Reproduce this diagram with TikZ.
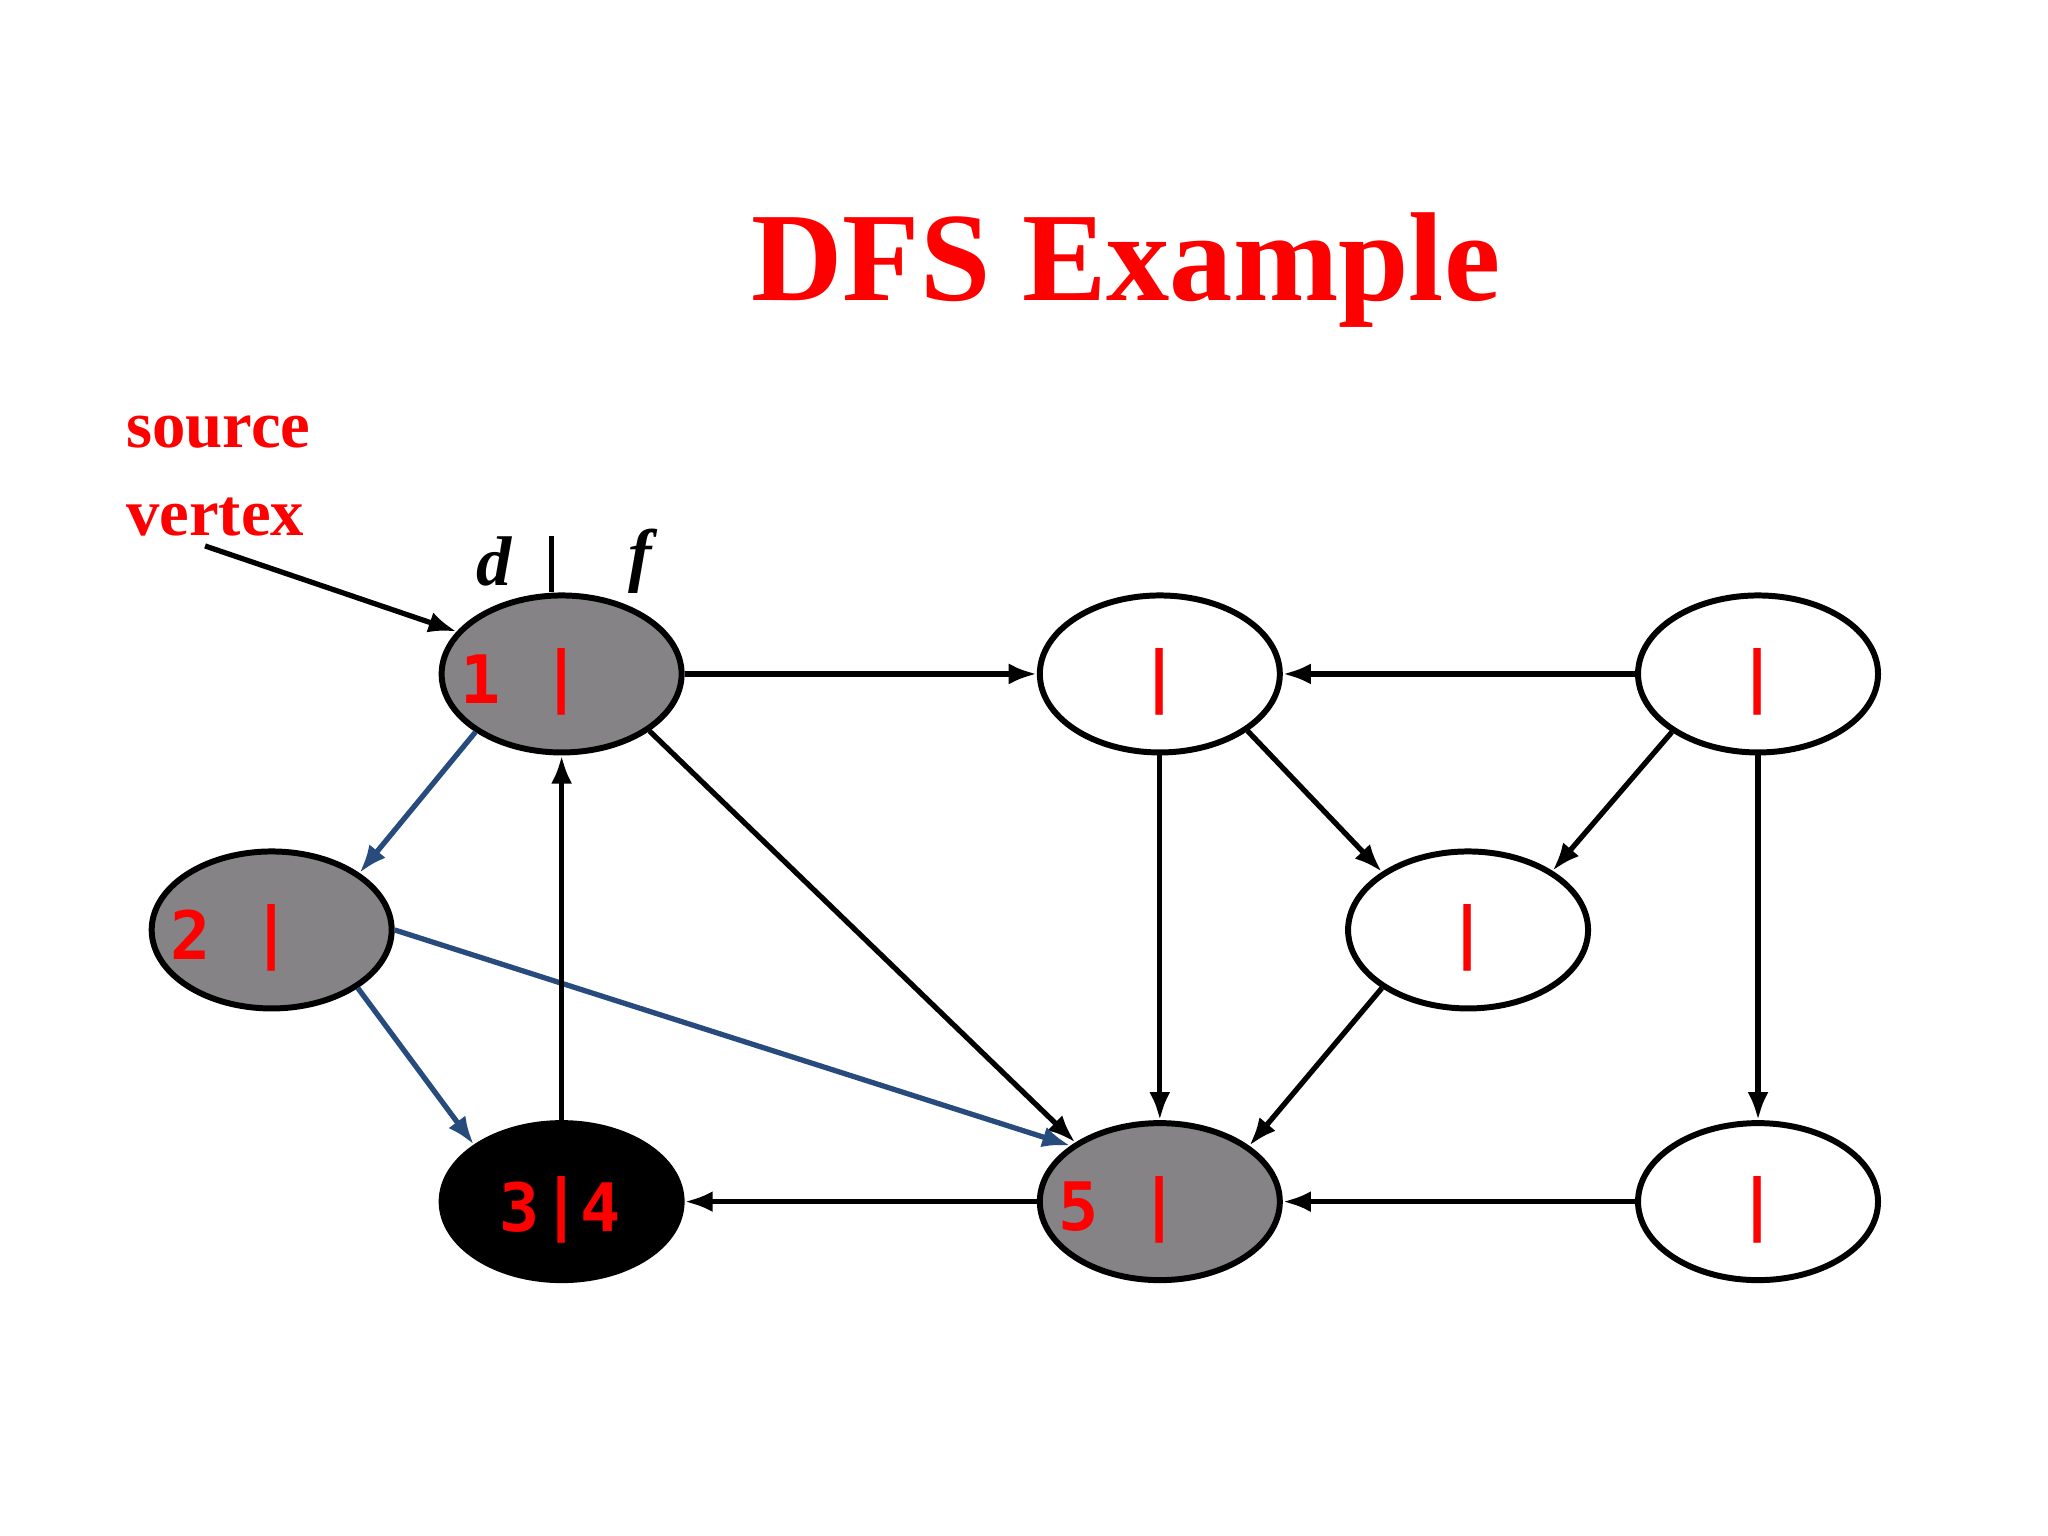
\documentclass[tikz,border=0pt]{standalone}
\usepackage{fontspec}
\setmainfont{Liberation Serif}
\newfontfamily\monof{DejaVu Sans Mono}
\usetikzlibrary{shapes.geometric,arrows.meta}
\definecolor{vgray}{RGB}{133,131,133}
\definecolor{eblue}{RGB}{40,75,125}
\begin{document}
\begin{tikzpicture}[x=0.01306cm,y=-0.01306cm,
  vtx/.style={ellipse,draw=black,line width=1.7pt,minimum width=2.4cm,minimum height=1.57cm,inner sep=0pt,fill=white},
  gr/.style={vtx,fill=vgray},
  bk/.style={vtx,fill=black},
  lab/.style={text=red,font=\monof\bfseries\fontsize{19}{19}\selectfont,inner sep=0pt},
  e/.style={line width=1.5pt,-{Latex[length=8pt,width=6pt]}},
  eb/.style={e,draw=eblue}]
\useasboundingbox[fill=white] (0,0) rectangle (1568,1176);
\node[font=\bfseries\fontsize{36}{36}\selectfont,text=red] (title) at (862,207) {DFS Example};
\node[font=\bfseries\fontsize{19}{19}\selectfont,text=red,align=left,anchor=north west,inner sep=0pt] (src) at (96,318) {source\\[6pt]vertex};
\node[gr] (A) at (430,516) {};
\node[vtx] (B) at (888,516) {};
\node[vtx] (C) at (1346,516) {};
\node[gr] (D) at (208,712) {};
\node[vtx] (E) at (1124,712) {};
\node[bk] (F) at (430,920) {};
\node[gr] (G) at (888,920) {};
\node[vtx] (H) at (1346,920) {};
\node[lab] (a1) at (368,520) {1}; \node[lab] (ab) at (430,522) {|};
\node[lab] (bb) at (888,522) {|};
\node[lab] (cb) at (1346,522) {|};
\node[lab] (d1) at (146,716) {2}; \node[lab] (db) at (208,718) {|};
\node[lab] (eb) at (1124,718) {|};
\node[lab] (f1) at (398,924) {3}; \node[lab] (fb) at (430,926) {|}; \node[lab] (f2) at (460,924) {4};
\node[lab] (g1) at (826,924) {5}; \node[lab] (gb) at (888,926) {|};
\node[lab] (hb) at (1346,926) {|};
\node[font=\bfseries\itshape\fontsize{20}{20}\selectfont] (dl) at (378,430) {d};
\node[font=\bfseries\itshape\fontsize{20}{20}\selectfont] (fl) at (490,430) {f};
\coordinate (bt) at (422,410);
\draw[line width=1.4pt] (bt) -- (A.north -| bt);
\coordinate (s0) at (157,418);
\draw[e] (s0) -- (A.158);
\draw[e] (A) -- (B);
\draw[e] (A.-33) -- (G.145);
\draw[eb] (A.214) -- (D.33);
\draw[eb] (D.-34) -- (F.147);
\draw[eb] (D.east) -- (G.148);
\draw[e] (F) -- (A);
\draw[e] (G) -- (F);
\draw[e] (B) -- (G);
\draw[e] (B.-33) -- (E.146);
\draw[e] (C) -- (B);
\draw[e] (C.214) -- (E.35);
\draw[e] (C) -- (H);
\draw[e] (E.214) -- (G.32);
\draw[e] (H) -- (G);
\end{tikzpicture}
\end{document}
